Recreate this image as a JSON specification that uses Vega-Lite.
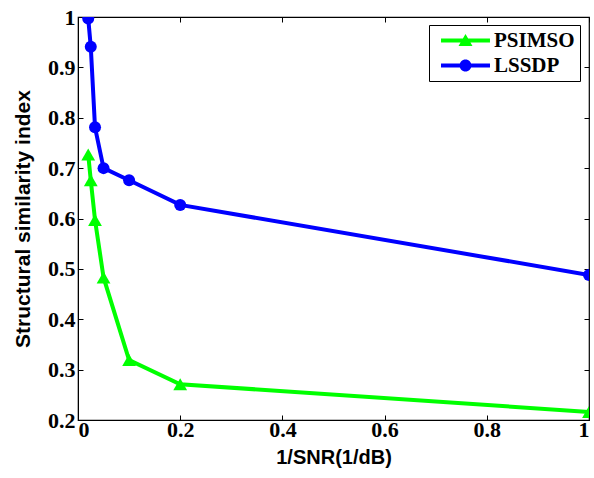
{
  "$schema": "https://vega.github.io/schema/vega-lite/v6.json",
  "width": 511,
  "height": 403,
  "autosize": "none",
  "padding": {"left": 78, "top": 17, "right": 5, "bottom": 58},
  "background": "white",
  "config": {
    "view": {"stroke": "black", "strokeWidth": 1.2}
  },
  "data": {
    "values": [
      {"x": 0.02, "y": 0.727, "s": "PSIMSO"},
      {"x": 0.025, "y": 0.676, "s": "PSIMSO"},
      {"x": 0.0333, "y": 0.597, "s": "PSIMSO"},
      {"x": 0.05, "y": 0.483, "s": "PSIMSO"},
      {"x": 0.1, "y": 0.319, "s": "PSIMSO"},
      {"x": 0.2, "y": 0.271, "s": "PSIMSO"},
      {"x": 1.0, "y": 0.216, "s": "PSIMSO"},
      {"x": 0.02, "y": 0.997, "s": "LSSDP"},
      {"x": 0.025, "y": 0.941, "s": "LSSDP"},
      {"x": 0.0333, "y": 0.781, "s": "LSSDP"},
      {"x": 0.05, "y": 0.70, "s": "LSSDP"},
      {"x": 0.1, "y": 0.676, "s": "LSSDP"},
      {"x": 0.2, "y": 0.627, "s": "LSSDP"},
      {"x": 1.0, "y": 0.488, "s": "LSSDP"}
    ]
  },
  "layer": [
    {
      "encoding": {
        "x": {
          "field": "x", "type": "quantitative",
          "scale": {"domain": [0, 1], "nice": false, "zero": false},
          "axis": {
            "values": [0, 0.2, 0.4, 0.6, 0.8, 1], "format": "~g", "title": "1/SNR(1/dB)",
            "grid": false, "domainColor": "black", "tickColor": "black", "tickSize": -5,
            "labelFont": "Liberation Serif", "labelFontWeight": "bold", "labelFontSize": 22, "labelColor": "black",
            "titleFont": "Liberation Sans", "titleFontWeight": "bold", "titleFontSize": 20, "titleColor": "black",
            "labelPadding": 4, "titlePadding": 7
          }
        },
        "y": {
          "field": "y", "type": "quantitative",
          "scale": {"domain": [0.2, 1], "nice": false, "zero": false},
          "axis": {
            "values": [0.2, 0.3, 0.4, 0.5, 0.6, 0.7, 0.8, 0.9, 1], "format": "~g", "title": "Structural similarity index",
            "grid": false, "domainColor": "black", "tickColor": "black", "tickSize": -5,
            "labelFont": "Liberation Serif", "labelFontWeight": "bold", "labelFontSize": 22, "labelColor": "black",
            "titleFont": "Liberation Sans", "titleFontWeight": "bold", "titleFontSize": 21, "titleColor": "black",
            "labelPadding": 8, "titlePadding": 14
          }
        }
      },
      "layer": [
        {
          "transform": [{"filter": "datum.s === 'LSSDP'"}],
          "mark": {"type": "line", "strokeWidth": 4, "color": "#0000ff", "clip": true},
          "encoding": {}
        },
        {
          "transform": [{"filter": "datum.s === 'PSIMSO'"}],
          "mark": {"type": "line", "strokeWidth": 4, "color": "#00ff00", "clip": true},
          "encoding": {}
        },
        {
          "transform": [{"filter": "datum.s === 'PSIMSO'"}],
          "mark": {"type": "point", "shape": "triangle-up", "filled": true, "size": 190, "opacity": 1, "color": "#00ff00", "clip": true}
        },
        {
          "transform": [{"filter": "datum.s === 'LSSDP'"}],
          "mark": {"type": "point", "shape": "circle", "filled": true, "size": 144, "opacity": 1, "color": "#0000ff", "clip": true}
        },
        {
          "mark": {"type": "point", "filled": true, "opacity": 0, "size": 1},
          "encoding": {
            "color": {
              "field": "s", "type": "nominal",
              "scale": {"domain": ["PSIMSO", "LSSDP"], "range": ["#00ff00", "#0000ff"]},
              "legend": {
                "orient": "none", "legendX": 351, "legendY": 8,
                "title": null,
                "strokeColor": "black", "fillColor": "white",
                "padding": 5,
                "labelFont": "Liberation Serif", "labelFontWeight": "bold", "labelFontSize": 21, "labelColor": "black",
                "symbolSize": 256, "symbolStrokeWidth": 0, "symbolOpacity": 1,
                "symbolOffset": 21, "labelOffset": 18, "rowPadding": 3
              }
            },
            "shape": {
              "field": "s", "type": "nominal",
              "scale": {
                "domain": ["PSIMSO", "LSSDP"],
                "range": [
                  "M-3.06,-0.25 L3.06,-0.25 L3.06,0.25 L-3.06,0.25 Z M0,-0.8 L0.875,0.7 L-0.875,0.7 Z",
                  "M-3.06,-0.25 L3.06,-0.25 L3.06,0.25 L-3.06,0.25 Z M-0.75,0 A0.75,0.75 0 1,1 0.75,0 A0.75,0.75 0 1,1 -0.75,0 Z"
                ]
              },
              "legend": {
                "orient": "none", "legendX": 351, "legendY": 8,
                "title": null,
                "strokeColor": "black", "fillColor": "white",
                "padding": 5,
                "labelFont": "Liberation Serif", "labelFontWeight": "bold", "labelFontSize": 21, "labelColor": "black",
                "symbolSize": 256, "symbolStrokeWidth": 0, "symbolOpacity": 1,
                "symbolOffset": 21, "labelOffset": 18, "rowPadding": 3
              }
            }
          }
        }
      ]
    },
    {
      "mark": {"type": "point", "opacity": 0},
      "encoding": {
        "x": {
          "field": "x", "type": "quantitative",
          "scale": {"domain": [0, 1], "nice": false, "zero": false},
          "axis": {"orient": "top", "values": [0, 0.2, 0.4, 0.6, 0.8, 1], "labels": false, "title": null, "grid": false, "domain": false, "tickColor": "black", "tickSize": -5}
        },
        "y": {
          "field": "y", "type": "quantitative",
          "scale": {"domain": [0.2, 1], "nice": false, "zero": false},
          "axis": {"orient": "right", "values": [0.2, 0.3, 0.4, 0.5, 0.6, 0.7, 0.8, 0.9, 1], "labels": false, "title": null, "grid": false, "domain": false, "tickColor": "black", "tickSize": -5}
        }
      }
    }
  ],
  "resolve": {"scale": {"x": "independent", "y": "independent"}}
}
